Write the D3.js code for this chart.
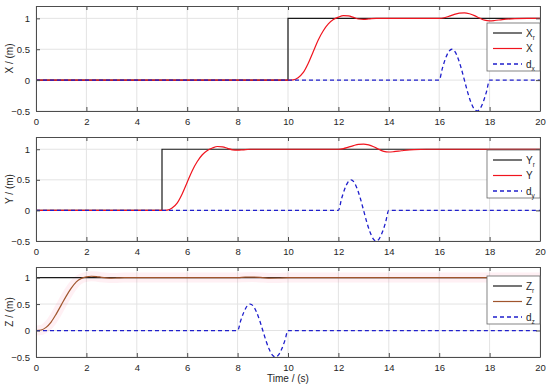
<!DOCTYPE html>
<meta charset="utf-8">
<style>
body { margin: 0; background: #fff; }
text { font-family: "Liberation Sans", Arial, sans-serif; fill: #262626; }
.grid line { stroke: #e3e3e3; stroke-width: 1; }
</style>
<body>
<script src="https://cdn.jsdelivr.net/npm/d3@7"></script>
<div id="content"></div>
<script>
var width = 550,
    height = 389;

// x axis ticks and y axis ticks (shared by the three panels)
var timeTicks = [0, 2, 4, 6, 8, 10, 12, 14, 16, 18, 20];
var valueTicks = [-0.5, 0, 0.5, 1];

// X panel
var tXref = [0, 10, 10, 20];
var xRef = [0, 0, 1, 1];
var tX = [0, 10, 10.2, 10.4, 10.6, 10.8, 11, 11.2, 11.4, 11.6, 11.8, 12, 12.2, 12.4, 12.6, 12.8, 13, 13.2, 13.5, 14,
          16, 16.2, 16.4, 16.6, 16.8, 17, 17.2, 17.4, 17.6, 17.8, 18, 18.2, 18.5, 19, 19.5, 20];
var xVal = [0, 0, 0.005, 0.04, 0.12, 0.27, 0.46, 0.65, 0.8, 0.91, 0.98, 1.02, 1.045, 1.04, 1.015, 0.99, 0.985, 0.99, 1.0, 1.0,
            1.0, 1.01, 1.035, 1.065, 1.085, 1.09, 1.075, 1.045, 1.005, 0.97, 0.96, 0.965, 0.98, 0.995, 1.0, 1.0];
var tDx = [0, 16, 16.125, 16.25, 16.375, 16.5, 16.625, 16.75, 16.875, 17, 17.125, 17.25, 17.375, 17.5, 17.625, 17.75, 17.875, 18, 20];
var dxVal = [0, 0, 0.19, 0.35, 0.46, 0.5, 0.46, 0.35, 0.19, 0, -0.19, -0.35, -0.46, -0.5, -0.46, -0.35, -0.19, 0, 0];

// Y panel
var tYref = [0, 5, 5, 20];
var yRef = [0, 0, 1, 1];
var tY = [0, 5, 5.2, 5.4, 5.6, 5.8, 6, 6.2, 6.4, 6.6, 6.8, 7, 7.2, 7.4, 7.6, 7.8, 8, 8.2, 8.5, 9,
          12, 12.2, 12.4, 12.6, 12.8, 13, 13.2, 13.4, 13.6, 13.8, 14, 14.2, 14.5, 15, 15.5, 20];
var yVal = [0, 0, 0.005, 0.04, 0.12, 0.27, 0.46, 0.65, 0.8, 0.91, 0.98, 1.02, 1.045, 1.04, 1.015, 0.99, 0.985, 0.99, 1.0, 1.0,
            1.0, 1.01, 1.035, 1.06, 1.08, 1.085, 1.07, 1.04, 1.0, 0.965, 0.955, 0.96, 0.975, 0.995, 1.0, 1.0];
var tDy = [0, 12, 12.125, 12.25, 12.375, 12.5, 12.625, 12.75, 12.875, 13, 13.125, 13.25, 13.375, 13.5, 13.625, 13.75, 13.875, 14, 20];
var dyVal = [0, 0, 0.19, 0.35, 0.46, 0.5, 0.46, 0.35, 0.19, 0, -0.19, -0.35, -0.46, -0.5, -0.46, -0.35, -0.19, 0, 0];

// Z panel
var tZref = [0, 20];
var zRef = [1, 1];
var tZ = [0, 0.2, 0.4, 0.6, 0.8, 1, 1.2, 1.4, 1.6, 1.8, 2, 2.2, 2.4, 2.6, 2.8, 3, 3.2, 3.5, 4,
          8, 8.3, 8.6, 9, 9.3, 9.6, 10, 20];
var zVal = [0, 0.01, 0.06, 0.16, 0.31, 0.48, 0.65, 0.8, 0.92, 0.985, 1.015, 1.025, 1.02, 1.005, 0.995, 0.99, 0.993, 1.0, 1.0,
            1.0, 1.008, 1.01, 1.0, 0.99, 0.992, 1.0, 1.0];
var tDz = [0, 8, 8.125, 8.25, 8.375, 8.5, 8.625, 8.75, 8.875, 9, 9.125, 9.25, 9.375, 9.5, 9.625, 9.75, 9.875, 10, 20];
var dzVal = [0, 0, 0.19, 0.35, 0.46, 0.5, 0.46, 0.35, 0.19, 0, -0.19, -0.35, -0.46, -0.5, -0.46, -0.35, -0.19, 0, 0];

var panels = [
  {top: 6, bottom: 111, label: "X / (m)", sym: "X", sub: "x", legendTop: 23,
   ref: [tXref, xRef], resp: [tX, xVal], dist: [tDx, dxVal], respColor: "#f0141e"},
  {top: 137, bottom: 241, label: "Y / (m)", sym: "Y", sub: "y", legendTop: 150,
   ref: [tYref, yRef], resp: [tY, yVal], dist: [tDy, dyVal], respColor: "#f0141e"},
  {top: 267, bottom: 357, label: "Z / (m)", sym: "Z", sub: "z", legendTop: 276,
   ref: [tZref, zRef], resp: [tZ, zVal], dist: [tDz, dzVal], respColor: "#a0552d", halo: true}
];

var left = 36, right = 540;

var svg = d3.select("#content").append("svg")
    .attr("width", width)
    .attr("height", height);

var x = d3.scaleLinear().domain([0, 20]).range([left, right]);

panels.forEach(function(p, k) {
  var y = d3.scaleLinear().domain([-0.5, 1.2]).range([p.bottom, p.top]);
  var g = svg.append("g");
  var clipId = "clip" + k;
  g.append("clipPath").attr("id", clipId)
    .append("rect")
    .attr("x", left).attr("y", p.top)
    .attr("width", right - left).attr("height", p.bottom - p.top);

  // grid
  var grid = g.append("g").attr("class", "grid");
  grid.selectAll(".gx").data(timeTicks).enter().append("line")
    .attr("x1", d => x(d)).attr("x2", d => x(d))
    .attr("y1", p.top).attr("y2", p.bottom);
  grid.selectAll(".gy").data(valueTicks).enter().append("line")
    .attr("x1", left).attr("x2", right)
    .attr("y1", d => y(d)).attr("y2", d => y(d));

  var line = d3.line().x(d => x(d[0])).y(d => y(d[1]));
  var smooth = d3.line().x(d => x(d[0])).y(d => y(d[1])).curve(d3.curveMonotoneX);
  var plot = g.append("g").attr("clip-path", "url(#" + clipId + ")");

  var refPts = d3.zip(p.ref[0], p.ref[1]);
  var respPts = d3.zip(p.resp[0], p.resp[1]);
  var distPts = d3.zip(p.dist[0], p.dist[1]);

  if (p.halo) {
    plot.append("path").attr("d", smooth(respPts))
      .style("fill", "none").style("stroke", "#ff3060")
      .style("stroke-opacity", 0.07).style("stroke-width", 10);
  }
  plot.append("path").attr("d", line(refPts))
    .style("fill", "none").style("stroke", "#1a1a1a").style("stroke-width", 1.2);
  plot.append("path").attr("d", smooth(respPts))
    .style("fill", "none").style("stroke", p.respColor).style("stroke-width", 1.2);
  plot.append("path").attr("d", smooth(distPts))
    .style("fill", "none").style("stroke", "#1f1fcc").style("stroke-width", 1.3)
    .style("stroke-dasharray", "4,3");

  // axes
  var axB = g.append("g").attr("transform", "translate(0," + p.bottom + ")")
    .call(d3.axisBottom(x).tickValues(timeTicks).tickSizeInner(-4).tickSizeOuter(0).tickPadding(7));
  var axT = g.append("g").attr("transform", "translate(0," + p.top + ")")
    .call(d3.axisTop(x).tickValues(timeTicks).tickSizeInner(-4).tickSizeOuter(0).tickFormat(""));
  var axL = g.append("g").attr("transform", "translate(" + left + ",0)")
    .call(d3.axisLeft(y).tickValues(valueTicks).tickSizeInner(-4).tickSizeOuter(0).tickPadding(6).tickFormat(d3.format("")));
  var axR = g.append("g").attr("transform", "translate(" + right + ",0)")
    .call(d3.axisRight(y).tickValues(valueTicks).tickSizeInner(-4).tickSizeOuter(0).tickFormat(""));
  [axB, axT, axL, axR].forEach(function(a) {
    a.select(".domain").style("stroke", "#4d4d4d");
    a.selectAll(".tick line").style("stroke", "#4d4d4d");
    a.selectAll("text").style("font-size", "9.5px").style("fill", "#262626");
  });

  g.append("text")
    .attr("transform", "translate(13," + ((p.top + p.bottom) / 2) + ") rotate(-90)")
    .attr("text-anchor", "middle")
    .style("font-size", "10px")
    .text(p.label);

  // legend
  var lg = g.append("g").attr("transform", "translate(487," + p.legendTop + ")");
  lg.append("rect").attr("width", 53).attr("height", 48)
    .style("fill", "#fff").style("stroke", "#666").style("stroke-width", 0.8);
  var items = [
    {color: "#1a1a1a", dash: null, name: p.sym, sub: "r"},
    {color: p.respColor, dash: null, name: p.sym, sub: ""},
    {color: "#1f1fcc", dash: "4,3", name: "d", sub: p.sub}
  ];
  items.forEach(function(it, i) {
    var yy = 10 + i * 15.5;
    lg.append("line").attr("x1", 6).attr("x2", 35).attr("y1", yy).attr("y2", yy)
      .style("stroke", it.color).style("stroke-width", it.dash ? 1.3 : 1.2)
      .style("stroke-dasharray", it.dash);
    var t = lg.append("text").attr("x", 39).attr("y", yy + 3.5).style("font-size", "10px");
    t.append("tspan").text(it.name);
    if (it.sub) t.append("tspan").attr("dy", 3).style("font-size", "6.5px").text(it.sub);
  });
});

svg.append("text")
  .attr("x", (left + right) / 2).attr("y", 382)
  .attr("text-anchor", "middle")
  .style("font-size", "10px")
  .text("Time / (s)");
</script>
</body>
